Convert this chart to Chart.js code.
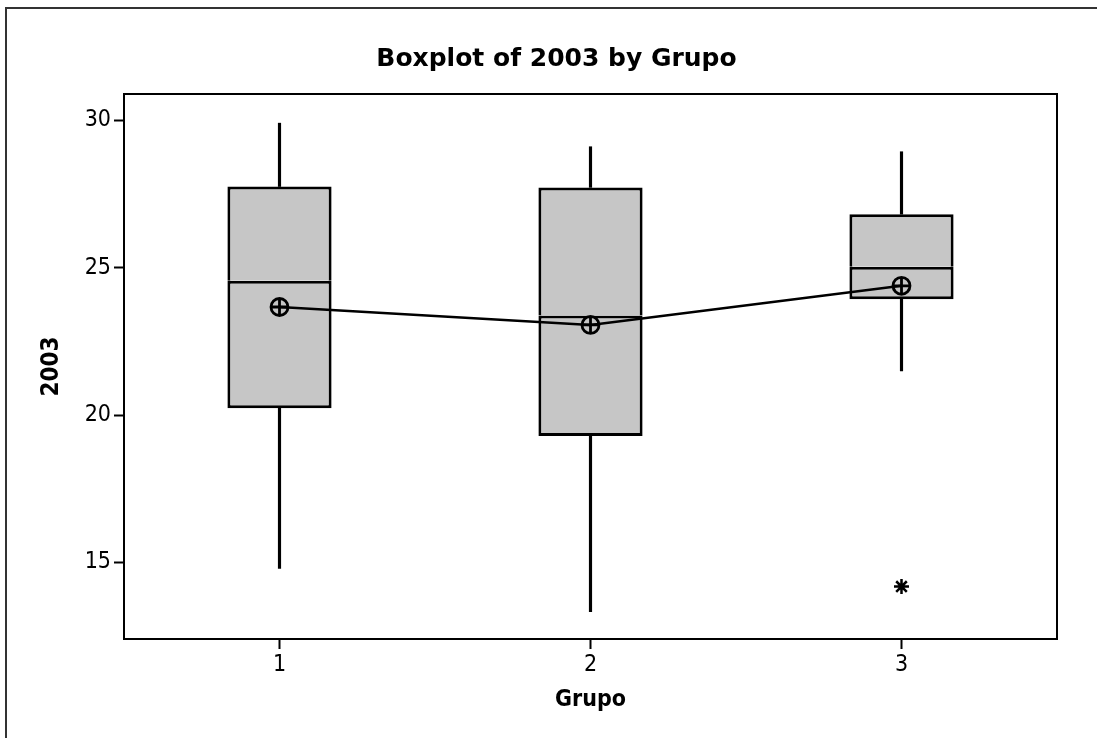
<!DOCTYPE html>
<html>
<head>
<meta charset="utf-8">
<script src="https://cdn.jsdelivr.net/npm/chart.js@4.4.1/dist/chart.umd.min.js"></script>
<style>
  html, body { margin: 0; padding: 0; background: #fff; overflow: hidden; }
  #wrap { position: relative; width: 1097px; height: 738px; }
  #frame { position: absolute; left: 5px; top: 7px; width: 2000px; height: 2000px;
           border-left: 2px solid #333; border-top: 2px solid #333; pointer-events: none; }
</style>
</head>
<body>
<div id="wrap">
  <canvas id="c" width="1097" height="738"></canvas>
  <div id="frame"></div>
</div>
<script>
// ---- data ----
const groups      = ['1', '2', '3'];
const whiskerLow  = [14.80, 13.33, 21.50];
const q1          = [20.23, 19.29, 23.93];
const median      = [24.56, 23.38, 25.04];
const q3          = [27.76, 27.73, 26.82];
const whiskerHigh = [29.91, 29.11, 28.94];
const means       = [23.67, 23.06, 24.39];
const outliers    = [{ x: '3', y: 14.18 }];
const yTicks      = [15, 20, 25, 30];
const yMin = 12.4, yMax = 30.9;

const FONT = "'DejaVu Sans Condensed', 'DejaVu Sans', sans-serif";
const TITLE_FONT = "'DejaVu Sans', sans-serif";
const BOX_FILL = 'rgb(198,198,198)';

const pair = (a, b) => a.map((v, i) => [v, b[i]]);

new Chart(document.getElementById('c'), {
  type: 'bar',
  data: {
    labels: groups,
    datasets: [
      { type: 'line', label: 'mean', data: means, order: 0,
        borderColor: '#000', borderWidth: 2.5, fill: false, tension: 0,
        pointStyle: 'circle', pointRadius: 8.5, pointBorderWidth: 2.8,
        pointBackgroundColor: 'rgba(0,0,0,0)', pointBorderColor: '#000' },
      { type: 'line', label: 'meanCross', data: means, order: 0, showLine: false,
        pointStyle: 'cross', pointRadius: 8.5, pointBorderWidth: 2.8,
        pointBorderColor: '#000', pointBackgroundColor: '#000' },
      { type: 'line', label: 'outlier', data: outliers, order: 0, showLine: false,
        pointStyle: 'star', pointRadius: 7.5, pointBorderWidth: 2.5,
        pointBorderColor: '#000', pointBackgroundColor: '#000' },
      { label: 'boxHigh', data: pair(median, q3), order: 1, grouped: false,
        backgroundColor: BOX_FILL, borderColor: '#000', borderSkipped: false,
        borderWidth: { left: 3, right: 3, top: 3, bottom: 0 },
        categoryPercentage: 1, barPercentage: 0.335 },
      { label: 'boxLow', data: pair(q1, median), order: 1, grouped: false,
        backgroundColor: BOX_FILL, borderColor: '#000', borderSkipped: false,
        borderWidth: { left: 3, right: 3, bottom: 3, top: 3 },
        categoryPercentage: 1, barPercentage: 0.335 },
      { label: 'whiskerLow', data: pair(whiskerLow, q1), order: 2, grouped: false,
        backgroundColor: '#000', borderWidth: 0, barThickness: 2.5 },
      { label: 'whiskerHigh', data: pair(q3, whiskerHigh), order: 2, grouped: false,
        backgroundColor: '#000', borderWidth: 0, barThickness: 2.5 }
    ]
  },
  options: {
    responsive: false,
    animation: false,
    layout: { padding: { left: 16, right: 0, top: 0, bottom: 0 } },
    plugins: {
      legend: { display: false },
      tooltip: { enabled: false },
      title: { display: true, text: 'Boxplot of 2003 by Grupo', color: '#000',
               font: { family: TITLE_FONT, size: 25, weight: 'bold' },
               padding: { top: 44, bottom: 20 } }
    },
    scales: {
      x: { type: 'category', position: 'bottom', offset: true,
           grid: { display: true, offset: false, drawOnChartArea: false, drawTicks: true,
                   tickLength: 10, tickWidth: 2, tickColor: '#000' },
           border: { display: true, color: '#000', width: 2 },
           ticks: { color: '#000', font: { family: FONT, size: 23 }, padding: 2 },
           title: { display: true, text: 'Grupo', color: '#000',
                    font: { family: FONT, size: 23, weight: 'bold' },
                    padding: { top: 0, bottom: 24.4 } },
           afterFit: s => { s.height = 99; } },
      x2: { type: 'category', position: 'top', offset: true,
            grid: { display: false }, ticks: { display: false },
            border: { display: true, color: '#000', width: 2 },
            afterFit: s => { s.height = 0; } },
      y: { type: 'linear', position: 'left', min: yMin, max: yMax,
           afterBuildTicks: s => { s.ticks = yTicks.map(v => ({ value: v })); },
           grid: { display: true, drawOnChartArea: false, drawTicks: true,
                   tickLength: 10, tickWidth: 2, tickColor: '#000' },
           border: { display: true, color: '#000', width: 2 },
           ticks: { color: '#000', font: { family: FONT, size: 23 }, padding: 3 },
           title: { display: true, text: '2003', color: '#000',
                    font: { family: FONT, size: 24, weight: 'bold' },
                    padding: { top: 21.6, bottom: 0 } },
           afterFit: s => { s.width = 108; } },
      y2: { type: 'linear', position: 'right', min: yMin, max: yMax,
            grid: { display: false }, ticks: { display: false },
            border: { display: true, color: '#000', width: 2 },
            afterFit: s => { s.width = 40; } }
    }
  }
});
</script>
</body>
</html>
